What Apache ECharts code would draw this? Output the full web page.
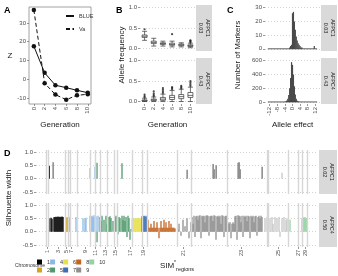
<!DOCTYPE html>
<html>
<head>
<meta charset="utf-8">
<script src="https://cdn.jsdelivr.net/npm/echarts@6/dist/echarts.min.js"></script>
<style>
  html, body { margin: 0; padding: 0; background: #fff; }
  #chart { width: 338px; height: 276px; }
</style>
</head>
<body>
<div id="chart"></div>
<script>
// ---- panel A
const generations = [0, 2, 4, 6, 8, 10];
const zBlue = [17.6, 3.4, -3.2, -4.5, -5.9, -7.2];
const zVa = [36.9, -2.1, -8.2, -10.9, -8.6, -8.0];

// ---- panel B (min, q1, median, q3, max)
const genLabels = ['0', '2', '4', '6', '8', '10'];
const boxAfpc1 = [
  [0.20, 0.27, 0.30, 0.33, 0.42],
  [0.06, 0.12, 0.15, 0.18, 0.25],
  [0.06, 0.10, 0.12, 0.14, 0.18],
  [0.04, 0.08, 0.10, 0.13, 0.18],
  [0.04, 0.07, 0.09, 0.11, 0.14],
  [0.02, 0.05, 0.07, 0.09, 0.13]
];
const outAfpc1 = [['0', 0.47], ['6', 0.35], ['10', 0.15], ['10', 0.17], ['10', 0.19], ['10', 0.2]];
const boxAfpc4 = [
  [0.00, 0.01, 0.02, 0.04, 0.08],
  [0.00, 0.02, 0.04, 0.06, 0.11],
  [0.00, 0.03, 0.06, 0.10, 0.18],
  [0.00, 0.05, 0.10, 0.15, 0.27],
  [0.00, 0.07, 0.12, 0.17, 0.30],
  [0.00, 0.10, 0.15, 0.22, 0.35]
];
const outAfpc4 = [
  ['0', 0.1], ['0', 0.13], ['0', 0.17],
  ['2', 0.13], ['2', 0.16], ['2', 0.2], ['2', 0.25],
  ['4', 0.21], ['4', 0.25], ['4', 0.29], ['4', 0.33],
  ['6', 0.3], ['6', 0.33], ['6', 0.35],
  ['8', 0.32], ['8', 0.35], ['8', 0.38],
  ['10', 0.38], ['10', 0.42], ['10', 0.46], ['10', 0.5]
];

// ---- panel C (bin centre, count)
const histTopBins = [-1.5, -1, -0.5, 0, 0.5, 1, 1.5, 2, 2.5, 3, 3.5, 4, 4.5, 5, 11.5];
const histTopCounts = [1, 2, 3, 26, 27, 20, 14, 9, 6, 4, 3, 2, 1, 1, 2];
const histBotBins = [-4, -3.5, -3, -2.5, -2, -1.5, -1, -0.5, 0, 0.5, 1, 1.5, 2, 2.5, 3, 3.5];
const histBotCounts = [3, 8, 20, 45, 100, 200, 350, 580, 540, 400, 230, 110, 45, 18, 6, 2];
const histRange = [-13, 13];
const effectTicks = [-12, -8, -4, 0, 4, 8, 12];

// ---- panel D (marker index, silhouette width)
const regionTicks = [11, 22, 30, 35, 49, 59, 69, 79, 94, 107, 147, 205, 242, 262, 269];
const regionLabels = ['1', '3', '5', '7', '9', '11', '13', '15', '17', '19', '21', '23', '25', '27', '29'];
const regionBounds = [10, 12, 29, 32, 34, 41, 54, 59, 64, 71, 78, 81, 96, 106, 111, 141, 155, 191, 231, 232, 252, 262, 266, 271];

const silTop1 = [[13, 0.48]];
const silTop4 = [[54, 0.4], [59, 0.45]];
const silTop5 = [[61, 0.6], [86, 0.58]];
const silTop9 = [[17, 0.62], [151, 0.33], [177, 0.55], [178, 0.35], [180, 0.5], [202, 0.6], [203, 0.62], [204, 0.35], [226, 0.45]];
const silTop9b = [[246, 0.22]];

const silBot1 = [[13, 0.5], [15, 0.52], [16, 0.48], [18, 0.54], [19, 0.55], [20, 0.56], [21, 0.55], [22, 0.57], [23, 0.55], [24, 0.56], [25, 0.55], [26, 0.57], [27, 0.55]];
const silBot2 = [[30, 0.5], [31, 0.55], [32, 0.52], [33, 0.55], [34, 0.5]];
const silBot4 = [[40, 0.55], [47, 0.5], [49, 0.48], [50, 0.52], [54, 0.6], [55, 0.58], [56, 0.6], [57, 0.55], [58, 0.62], [60, 0.58], [62, 0.6]];
const silBot5 = [[61, -0.4], [64, 0.55], [65, 0.4], [66, 0.6], [68, 0.45], [70, 0.6], [71, 0.3], [73, 0.55], [74, 0.58], [75, 0.5], [77, 0.4], [79, 0.55], [80, 0.6], [82, -0.1], [83, 0.55], [84, 0.5], [86, 0.6], [87, 0.45], [88, 0.6], [89, 0.4], [90, 0.55], [91, -0.2], [92, 0.6], [93, 0.5], [94, -0.3], [95, 0.1]];
const silBot6 = [[96, 0.5], [97, 0.52], [98, 0.5], [99, 0.48], [100, 0.5], [101, 0.5], [102, 0.52], [103, 0.5], [104, 0.5], [105, 0.48]];
const silBot7 = [[106, 0.58], [107, 0.6], [108, 0.58], [109, 0.6], [110, 0.55], [111, 0.6]];
const silBot8 = [[112, 0.45], [113, 0.15], [114, 0.15], [115, 0.3], [116, 0.15], [117, 0.15], [118, 0.4], [119, 0.15], [120, 0.15], [121, 0.35], [122, 0.15], [123, -0.25], [124, 0.15], [125, 0.4], [126, 0.15], [127, 0.15], [128, 0.45], [129, 0.15], [130, 0.35], [131, 0.15], [132, 0.15], [133, 0.4], [134, 0.15], [135, 0.3], [136, 0.15], [137, 0.15], [138, 0.15], [139, 0.12], [142, 0.08]];
const silBot9 = [[143, 0.3], [145, -0.15], [147, 0.45], [149, 0.2], [151, 0.5], [153, -0.25], [155, 0.35],
  [156, 0.55], [157, 0.3], [158, 0.6], [159, -0.2], [160, 0.58], [161, 0.6], [162, 0.45], [163, 0.6], [164, 0.62], [165, -0.25],
  [166, 0.6], [167, 0.58], [168, 0.6], [169, 0.35], [170, 0.6], [171, 0.62], [172, 0.6], [173, -0.15], [174, 0.58], [175, 0.6],
  [176, 0.6], [177, 0.4], [178, 0.62], [179, 0.6], [180, -0.3], [181, 0.58], [182, 0.6], [183, 0.55], [184, 0.6], [185, 0.3],
  [186, 0.62], [187, 0.6], [188, -0.2], [189, 0.58], [190, 0.6], [191, 0.6], [192, 0.35], [193, 0.3], [194, 0.35], [195, -0.25],
  [196, 0.3], [197, 0.35], [198, 0.3], [199, 0.58], [200, 0.6], [201, -0.3], [202, 0.62], [203, 0.6], [204, 0.58], [205, 0.35],
  [206, 0.6], [207, -0.2], [208, 0.6], [209, 0.55], [210, 0.6], [211, 0.4], [212, 0.6], [213, 0.58], [214, -0.25], [215, 0.6],
  [216, 0.55], [217, 0.6], [218, 0.35], [219, 0.58], [220, 0.6], [221, -0.15], [222, 0.55], [223, 0.6], [224, 0.5], [225, 0.6], [226, 0.55]];
const silBot9b = [[229, 0.5], [231, 0.55], [232, -0.25], [234, 0.5], [236, 0.55], [237, 0.3], [239, 0.55], [241, 0.5], [243, 0.55], [244, -0.2], [246, 0.5], [248, 0.55], [250, 0.45], [251, 0.5]];
const silBot10 = [[254, 0.45], [266, 0.5], [267, 0.55], [268, 0.5], [269, 0.55], [270, 0.5], [271, 0.5]];

const chrColors = {
  '1': '#000000', '2': '#D4A321', '4': '#8CB9E3', '5': '#4F9A6B', '6': '#E6E04A',
  '7': '#3A6DB3', '8': '#C4641F', '9': '#8E8E8E', '9b': '#C6C6C6', '10': '#93D3A2'
};

const FONT = 'Liberation Sans';
const lab = { fontSize: 6, color: '#4d4d4d', fontFamily: FONT };
const titleStyle = { fontSize: 8, color: '#1a1a1a', fontFamily: FONT };
const dotted = { show: true, lineStyle: { color: '#c8c8c8', type: [1, 2], width: 0.8 } };
const noLine = { show: false, onZero: false };
const tick = (vals) => ({ show: true, length: 2, customValues: vals, lineStyle: { color: '#555', width: 0.6 } });

const chart = echarts.init(document.getElementById('chart'), null, { renderer: 'canvas' });

function barSeries(name, data, xi, colorKey, extra) {
  return Object.assign({
    name: name, type: 'bar', xAxisIndex: xi, yAxisIndex: xi, data: data,
    barWidth: 1.3, barGap: '-100%', itemStyle: { color: chrColors[colorKey] },
    silent: true, animation: false
  }, extra || {});
}

function regionLines() {
  return {
    silent: true, symbol: ['none', 'none'], label: { show: false },
    lineStyle: { color: '#d6d6d6', width: 1.4, type: 'solid' },
    data: regionBounds.map(v => ({ xAxis: v }))
  };
}

function strip(x, y, w, h, txt) {
  return [
    { type: 'rect', shape: { x: x, y: y, width: w, height: h }, style: { fill: '#d9d9d9' } },
    { type: 'text', x: x + w / 2, y: y + h / 2, rotation: -Math.PI / 2,
      style: { text: txt, fontSize: 5.5, lineHeight: 7, fontFamily: FONT, fill: '#1a1a1a', align: 'center', verticalAlign: 'middle' } }
  ];
}

const option = {
  animation: false,
  textStyle: { fontFamily: FONT },
  grid: [
    { left: 29, top: 7, width: 62, height: 97, show: true, borderColor: '#8a8a8a', borderWidth: 0.8 },
    { left: 140, top: 5, width: 55, height: 46 },
    { left: 140, top: 58, width: 55, height: 46 },
    { left: 265, top: 5, width: 55, height: 46 },
    { left: 265, top: 58, width: 55, height: 46 },
    { left: 36, top: 150, width: 282, height: 44 },
    { left: 36, top: 203, width: 282, height: 44 }
  ],
  xAxis: [
    { type: 'value', gridIndex: 0, min: -0.9, max: 10.6, axisLine: noLine, splitLine: { show: false },
      axisTick: tick(generations), axisLabel: Object.assign({ customValues: generations, rotate: 90, margin: 3 }, lab),
      name: 'Generation', nameLocation: 'middle', nameGap: 17, nameTextStyle: titleStyle },
    { type: 'category', gridIndex: 1, data: genLabels, axisLine: noLine, axisTick: { show: false }, axisLabel: { show: false } },
    { type: 'category', gridIndex: 2, data: genLabels, axisLine: noLine,
      axisTick: { show: true, alignWithLabel: true, length: 2, lineStyle: { color: '#555', width: 0.6 } },
      axisLabel: Object.assign({ rotate: 90, margin: 3 }, lab),
      name: 'Generation', nameLocation: 'middle', nameGap: 17, nameTextStyle: titleStyle },
    { type: 'value', gridIndex: 3, min: -14.5, max: 14.5, axisLine: noLine, splitLine: { show: false }, axisTick: { show: false }, axisLabel: { show: false } },
    { type: 'value', gridIndex: 4, min: -14.5, max: 14.5, axisLine: noLine, splitLine: { show: false },
      axisTick: tick(effectTicks), axisLabel: Object.assign({ customValues: effectTicks, rotate: 90, margin: 3 }, lab),
      name: 'Allele effect', nameLocation: 'middle', nameGap: 17, nameTextStyle: titleStyle },
    { type: 'value', gridIndex: 5, min: 0, max: 282, axisLine: noLine, splitLine: { show: false }, axisTick: { show: false }, axisLabel: { show: false } },
    { type: 'value', gridIndex: 6, min: 0, max: 282, axisLine: noLine, splitLine: { show: false },
      axisTick: tick(regionTicks),
      axisLabel: Object.assign({ customValues: regionTicks, rotate: 90, margin: 3, fontSize: 5.5,
        formatter: v => regionLabels[regionTicks.indexOf(v)] }, { color: lab.color, fontFamily: FONT }),
      name: '{a|SIM}{b|*}{c|regions}', nameLocation: 'middle', nameGap: 11,
      nameTextStyle: { rich: {
        a: { fontSize: 8, color: '#1a1a1a', fontFamily: FONT, lineHeight: 12, verticalAlign: 'middle' },
        b: { fontSize: 5, color: '#1a1a1a', fontFamily: FONT, verticalAlign: 'top' },
        c: { fontSize: 5.5, color: '#1a1a1a', fontFamily: FONT, verticalAlign: 'bottom' }
      } } }
  ],
  yAxis: [
    { type: 'value', gridIndex: 0, min: -13.2, max: 38.5, axisLine: noLine, splitLine: { show: false },
      axisTick: tick([-10, 0, 10, 20, 30]), axisLabel: Object.assign({ customValues: [-10, 0, 10, 20, 30], margin: 3 }, lab),
      name: 'Z', nameLocation: 'middle', nameRotate: 0, nameGap: 11, nameTextStyle: titleStyle },
    { type: 'value', gridIndex: 1, min: -0.06, max: 1.06, axisLine: noLine, splitLine: dotted,
      axisTick: tick([0, 0.5, 1]), axisLabel: Object.assign({ customValues: [0, 0.5, 1], margin: 3, formatter: v => v.toFixed(1) }, lab) },
    { type: 'value', gridIndex: 2, min: -0.06, max: 1.06, axisLine: noLine, splitLine: dotted,
      axisTick: tick([0, 0.5, 1]), axisLabel: Object.assign({ customValues: [0, 0.5, 1], margin: 3, formatter: v => v.toFixed(1) }, lab) },
    { type: 'value', gridIndex: 3, min: -1.6, max: 32, axisLine: noLine, splitLine: dotted,
      axisTick: tick([0, 10, 20, 30]), axisLabel: Object.assign({ customValues: [0, 10, 20, 30], margin: 3 }, lab) },
    { type: 'value', gridIndex: 4, min: -30, max: 640, axisLine: noLine, splitLine: dotted,
      axisTick: tick([0, 200, 400, 600]), axisLabel: Object.assign({ customValues: [0, 200, 400, 600], margin: 3 }, lab) },
    { type: 'value', gridIndex: 5, min: -0.575, max: 1.075, axisLine: noLine, splitLine: dotted,
      axisTick: tick([-0.5, 0, 0.5, 1]), axisLabel: Object.assign({ customValues: [-0.5, 0, 0.5, 1], margin: 3, formatter: v => v.toFixed(1) }, lab) },
    { type: 'value', gridIndex: 6, min: -0.575, max: 1.075, axisLine: noLine, splitLine: dotted,
      axisTick: tick([-0.5, 0, 0.5, 1]), axisLabel: Object.assign({ customValues: [-0.5, 0, 0.5, 1], margin: 3, formatter: v => v.toFixed(1) }, lab) }
  ],
  legend: [
    { data: ['BLUE', 'Va'], left: 65, top: 13, padding: 0, orient: 'vertical', itemWidth: 8, itemHeight: 6, itemGap: 7,
      itemStyle: { opacity: 0 }, textStyle: { fontSize: 5.5, color: '#333', fontFamily: FONT }, selectedMode: false },
    { data: ['1', '4', '6', '8', '10'], left: 37, top: 259, padding: 0, itemWidth: 5, itemHeight: 5, itemGap: 0, icon: 'rect',
      textStyle: { fontSize: 5.5, color: '#333', fontFamily: FONT }, selectedMode: false },
    { data: ['2', '5', '7', '9'], left: 37, top: 267, padding: 0, itemWidth: 5, itemHeight: 5, itemGap: 0, icon: 'rect',
      textStyle: { fontSize: 5.5, color: '#333', fontFamily: FONT }, selectedMode: false }
  ],
  graphic: [
    { type: 'text', x: 4, y: 6, style: { text: 'A', fontSize: 9, fontWeight: 'bold', fontFamily: FONT, fill: '#000' } },
    { type: 'text', x: 116, y: 6, style: { text: 'B', fontSize: 9, fontWeight: 'bold', fontFamily: FONT, fill: '#000' } },
    { type: 'text', x: 227, y: 6, style: { text: 'C', fontSize: 9, fontWeight: 'bold', fontFamily: FONT, fill: '#000' } },
    { type: 'text', x: 4, y: 149, style: { text: 'D', fontSize: 9, fontWeight: 'bold', fontFamily: FONT, fill: '#000' } },
    { type: 'text', x: 122, y: 55, rotation: Math.PI / 2,
      style: { text: 'Allele frequency', fontSize: 8, fontFamily: FONT, fill: '#1a1a1a', align: 'center', verticalAlign: 'middle' } },
    { type: 'text', x: 238, y: 55, rotation: Math.PI / 2,
      style: { text: 'Number of Markers', fontSize: 8, fontFamily: FONT, fill: '#1a1a1a', align: 'center', verticalAlign: 'middle' } },
    { type: 'text', x: 9, y: 198, rotation: Math.PI / 2,
      style: { text: 'Silhouette width', fontSize: 8, fontFamily: FONT, fill: '#1a1a1a', align: 'center', verticalAlign: 'middle' } },
    { type: 'text', x: 15, y: 266, style: { text: 'Chromosome', fontSize: 5, fontFamily: FONT, fill: '#333', verticalAlign: 'middle' } }
  ].concat(
    strip(196, 5, 16, 46, 'AFPC1\n0.03'), strip(196, 58, 16, 46, 'AFPC4\n0.43'),
    strip(321, 5, 16, 46, 'AFPC1\n0.03'), strip(321, 58, 16, 46, 'AFPC4\n0.43'),
    strip(319, 150, 18, 44, 'AFPC1\n0.02'), strip(319, 203, 18, 44, 'AFPC4\n0.50')
  ),
  series: [
    // A
    { name: 'BLUE', type: 'line', xAxisIndex: 0, yAxisIndex: 0, data: generations.map((g, i) => [g, zBlue[i]]),
      symbol: 'circle', symbolSize: 4.5, itemStyle: { color: '#111' }, lineStyle: { color: '#111', width: 1 } },
    { name: 'Va', type: 'line', xAxisIndex: 0, yAxisIndex: 0, data: generations.map((g, i) => [g, zVa[i]]),
      symbol: 'circle', symbolSize: 4.5, itemStyle: { color: '#111' }, lineStyle: { color: '#111', width: 1, type: [4, 2.5] } },
    // B
    { type: 'boxplot', xAxisIndex: 1, yAxisIndex: 1, data: boxAfpc1, boxWidth: [5, 5],
      itemStyle: { color: '#fff', borderColor: '#333', borderWidth: 0.7 } },
    { type: 'scatter', xAxisIndex: 1, yAxisIndex: 1, data: outAfpc1, symbolSize: 2.2, itemStyle: { color: '#222' } },
    { type: 'boxplot', xAxisIndex: 2, yAxisIndex: 2, data: boxAfpc4, boxWidth: [5, 5],
      itemStyle: { color: '#fff', borderColor: '#333', borderWidth: 0.7 } },
    { type: 'scatter', xAxisIndex: 2, yAxisIndex: 2, data: outAfpc4, symbolSize: 2.2, itemStyle: { color: '#222' } },
    // C
    { type: 'line', xAxisIndex: 3, yAxisIndex: 3, data: histRange.map(x => [x, 0]), symbol: 'none', lineStyle: { color: '#333', width: 0.8 } },
    { type: 'bar', xAxisIndex: 3, yAxisIndex: 3, data: histTopBins.map((b, i) => [b, histTopCounts[i]]), barWidth: 1.2,
      itemStyle: { color: '#4a4a4a' } },
    { type: 'line', xAxisIndex: 4, yAxisIndex: 4, data: histRange.map(x => [x, 0]), symbol: 'none', lineStyle: { color: '#333', width: 0.8 } },
    { type: 'bar', xAxisIndex: 4, yAxisIndex: 4, data: histBotBins.map((b, i) => [b, histBotCounts[i]]), barWidth: 1.2,
      itemStyle: { color: '#4a4a4a' } },
    // D top
    barSeries('1', silTop1, 5, '1', { markLine: regionLines(), barWidth: 1.6 }),
    barSeries('4', silTop4, 5, '4'),
    barSeries('5', silTop5, 5, '5'),
    barSeries('9', silTop9, 5, '9', { barWidth: 1.6 }),
    barSeries('9', silTop9b, 5, '9b'),
    // D bottom
    barSeries('1', silBot1, 6, '1', { markLine: regionLines() }),
    barSeries('2', silBot2, 6, '2'),
    barSeries('4', silBot4, 6, '4'),
    barSeries('5', silBot5, 6, '5'),
    barSeries('6', silBot6, 6, '6'),
    barSeries('7', silBot7, 6, '7'),
    barSeries('8', silBot8, 6, '8'),
    barSeries('9', silBot9, 6, '9'),
    barSeries('9', silBot9b, 6, '9b'),
    barSeries('10', silBot10, 6, '10')
  ]
};

chart.setOption(option);
</script>
</body>
</html>
